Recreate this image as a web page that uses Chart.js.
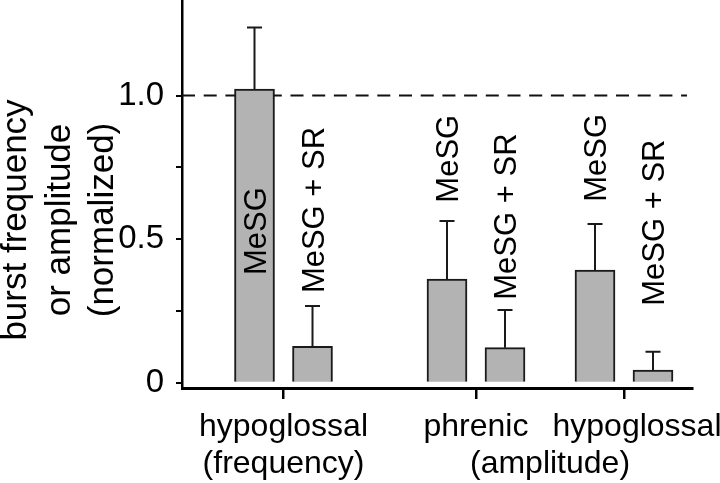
<!DOCTYPE html>
<html><head><meta charset="utf-8">
<script src="https://cdn.jsdelivr.net/npm/chart.js@4.4.1/dist/chart.umd.min.js"></script>
<style>html,body{margin:0;padding:0;background:#fff}#wrap{width:720px;height:483px}</style>
</head><body><div id="wrap"><canvas id="c" width="720" height="483"></canvas></div>
<script>
// ---- data ----
const categories = [['hypoglossal', '(frequency)'], ['phrenic', ''], ['hypoglossal']];
const sharedLabel = ['', '(amplitude)'];
const seriesNames = ['MeSG', 'MeSG + SR'];
const meanMeSG = [1.023, 0.361, 0.392];
const errMeSG = [0.214, 0.202, 0.161];
const meanMeSGSR = [0.127, 0.122, 0.044];
const errMeSGSR = [0.140, 0.131, 0.064];
const yTickValues = [0, 0.25, 0.5, 0.75, 1.0];
const yTickLabels = ['0', '', '0.5', '', '1.0'];
const referenceLevel = 1.0;
const yTitleLines = ['burst frequency', 'or amplitude', '(normalized)'];
// label anchors (value where each rotated series label starts)
const labelAnchorMeSG = [0.375, 0.627, 0.63];
const labelAnchorSR = [0.312, 0.289, 0.268];

// ---- layout ----
const groupPos = [101.5, 294, 442];
const pairOffset = 29;
const lastLabelShift = 13;
const FONT = '"Liberation Sans", Arial, Helvetica, sans-serif';

const xTicks = [
  {value: groupPos[0], lbl: categories[0], mark: true},
  {value: groupPos[1], lbl: categories[1], mark: true},
  {value: (groupPos[1] + groupPos[2]) / 2, lbl: sharedLabel, mark: false},
  {value: groupPos[2], lbl: '', mark: true},
  {value: groupPos[2] + lastLabelShift, lbl: categories[2], mark: false}
];

const barFill = '#b3b3b3', barEdge = '#1a1a1a';

const errorBars = {
  id: 'errorBars',
  beforeDatasetsDraw(chart) {
    const {ctx, chartArea, scales} = chart;
    const y = scales.y.getPixelForValue(referenceLevel);
    ctx.save();
    ctx.strokeStyle = '#111'; ctx.lineWidth = 2;
    ctx.setLineDash([13, 8.7]);
    ctx.beginPath(); ctx.moveTo(chartArea.left, y); ctx.lineTo(chartArea.right - 5, y); ctx.stroke();
    ctx.restore();
  },
  afterDatasetsDraw(chart) {
    const {ctx, scales} = chart;
    const errs = [errMeSG, errMeSGSR];
    const means = [meanMeSG, meanMeSGSR];
    const anchors = [labelAnchorMeSG, labelAnchorSR];
    ctx.save();
    ctx.strokeStyle = '#1a1a1a'; ctx.lineWidth = 2;
    for (let d = 0; d < 2; d++) {
      const meta = chart.getDatasetMeta(d);
      meta.data.forEach((el, i) => {
        const x = el.x;
        const yTop = scales.y.getPixelForValue(means[d][i]);
        const yE = scales.y.getPixelForValue(means[d][i] + errs[d][i]);
        ctx.beginPath();
        ctx.moveTo(x, yTop); ctx.lineTo(x, yE);
        ctx.moveTo(x - 7.5, yE); ctx.lineTo(x + 7.5, yE);
        ctx.stroke();
        // rotated series label
        const fs = 31;
        ctx.save();
        ctx.fillStyle = '#000';
        ctx.font = fs + 'px ' + FONT;
        ctx.textAlign = 'left'; ctx.textBaseline = 'alphabetic';
        ctx.translate(x + fs * 0.358, scales.y.getPixelForValue(anchors[d][i]));
        ctx.rotate(-Math.PI / 2);
        ctx.fillText(seriesNames[d], 0, 0);
        ctx.restore();
      });
    }
    ctx.restore();
  },
  afterDraw(chart) {
    const {ctx} = chart;
    ctx.save();
    ctx.fillStyle = '#000';
    ctx.font = '35px ' + FONT;
    ctx.textAlign = 'center'; ctx.textBaseline = 'alphabetic';
    const bx = [26, 69.5, 113];
    yTitleLines.forEach((t, i) => {
      ctx.save();
      ctx.translate(bx[i], 220);
      ctx.rotate(-Math.PI / 2);
      ctx.fillText(t, 0, 0);
      ctx.restore();
    });
    ctx.restore();
  }
};

new Chart(document.getElementById('c'), {
  type: 'bar',
  data: {
    datasets: [
      {label: seriesNames[0], data: meanMeSG.map((v, i) => ({x: groupPos[i] - pairOffset, y: v})),
       backgroundColor: barFill, borderColor: barEdge, borderWidth: 2, barThickness: 40, grouped: false},
      {label: seriesNames[1], data: meanMeSGSR.map((v, i) => ({x: groupPos[i] + pairOffset, y: v})),
       backgroundColor: barFill, borderColor: barEdge, borderWidth: 2, barThickness: 40, grouped: false}
    ]
  },
  options: {
    responsive: false, animation: false, devicePixelRatio: 1,
    layout: {padding: {left: 0, right: 28, top: 0, bottom: 0}},
    plugins: {legend: {display: false}, tooltip: {enabled: false}},
    scales: {
      x: {
        type: 'linear', min: 0, max: 510, offset: false,
        grid: {offset: false, drawOnChartArea: false, drawTicks: true, tickLength: 11, lineWidth: 2.5, tickWidth: 2.5,
               tickColor: (c) => (c.tick && c.tick.mark === false) ? 'rgba(0,0,0,0)' : '#000'},
        border: {display: true, color: '#000', width: 3},
        afterBuildTicks: (s) => { s.ticks = xTicks.map(t => ({value: t.value, mark: t.mark, lbl: t.lbl})); },
        ticks: {autoSkip: false, maxRotation: 0, minRotation: 0, padding: 9, color: '#000',
                font: {family: FONT, size: 32, lineHeight: 1.17},
                callback: (v, i) => xTicks[i].lbl},
        afterFit: (s) => { s.height = 95; s.paddingLeft = 0; s.paddingRight = 0; }
      },
      y: {
        type: 'linear', min: -0.0185, max: 1.333,
        grid: {drawOnChartArea: false, drawTicks: true, tickLength: 6, lineWidth: 2, tickWidth: 2, tickColor: '#000'},
        border: {display: true, color: '#000', width: 2.5},
        afterBuildTicks: (s) => { s.ticks = yTickValues.map(v => ({value: v})); },
        ticks: {padding: 12, color: '#000', font: {family: FONT, size: 33},
                callback: (v, i) => yTickLabels[i]},
        afterFit: (s) => { s.width = 182; s.paddingTop = 0; s.paddingBottom = 0; }
      }
    }
  },
  plugins: [errorBars]
});
</script></body></html>
